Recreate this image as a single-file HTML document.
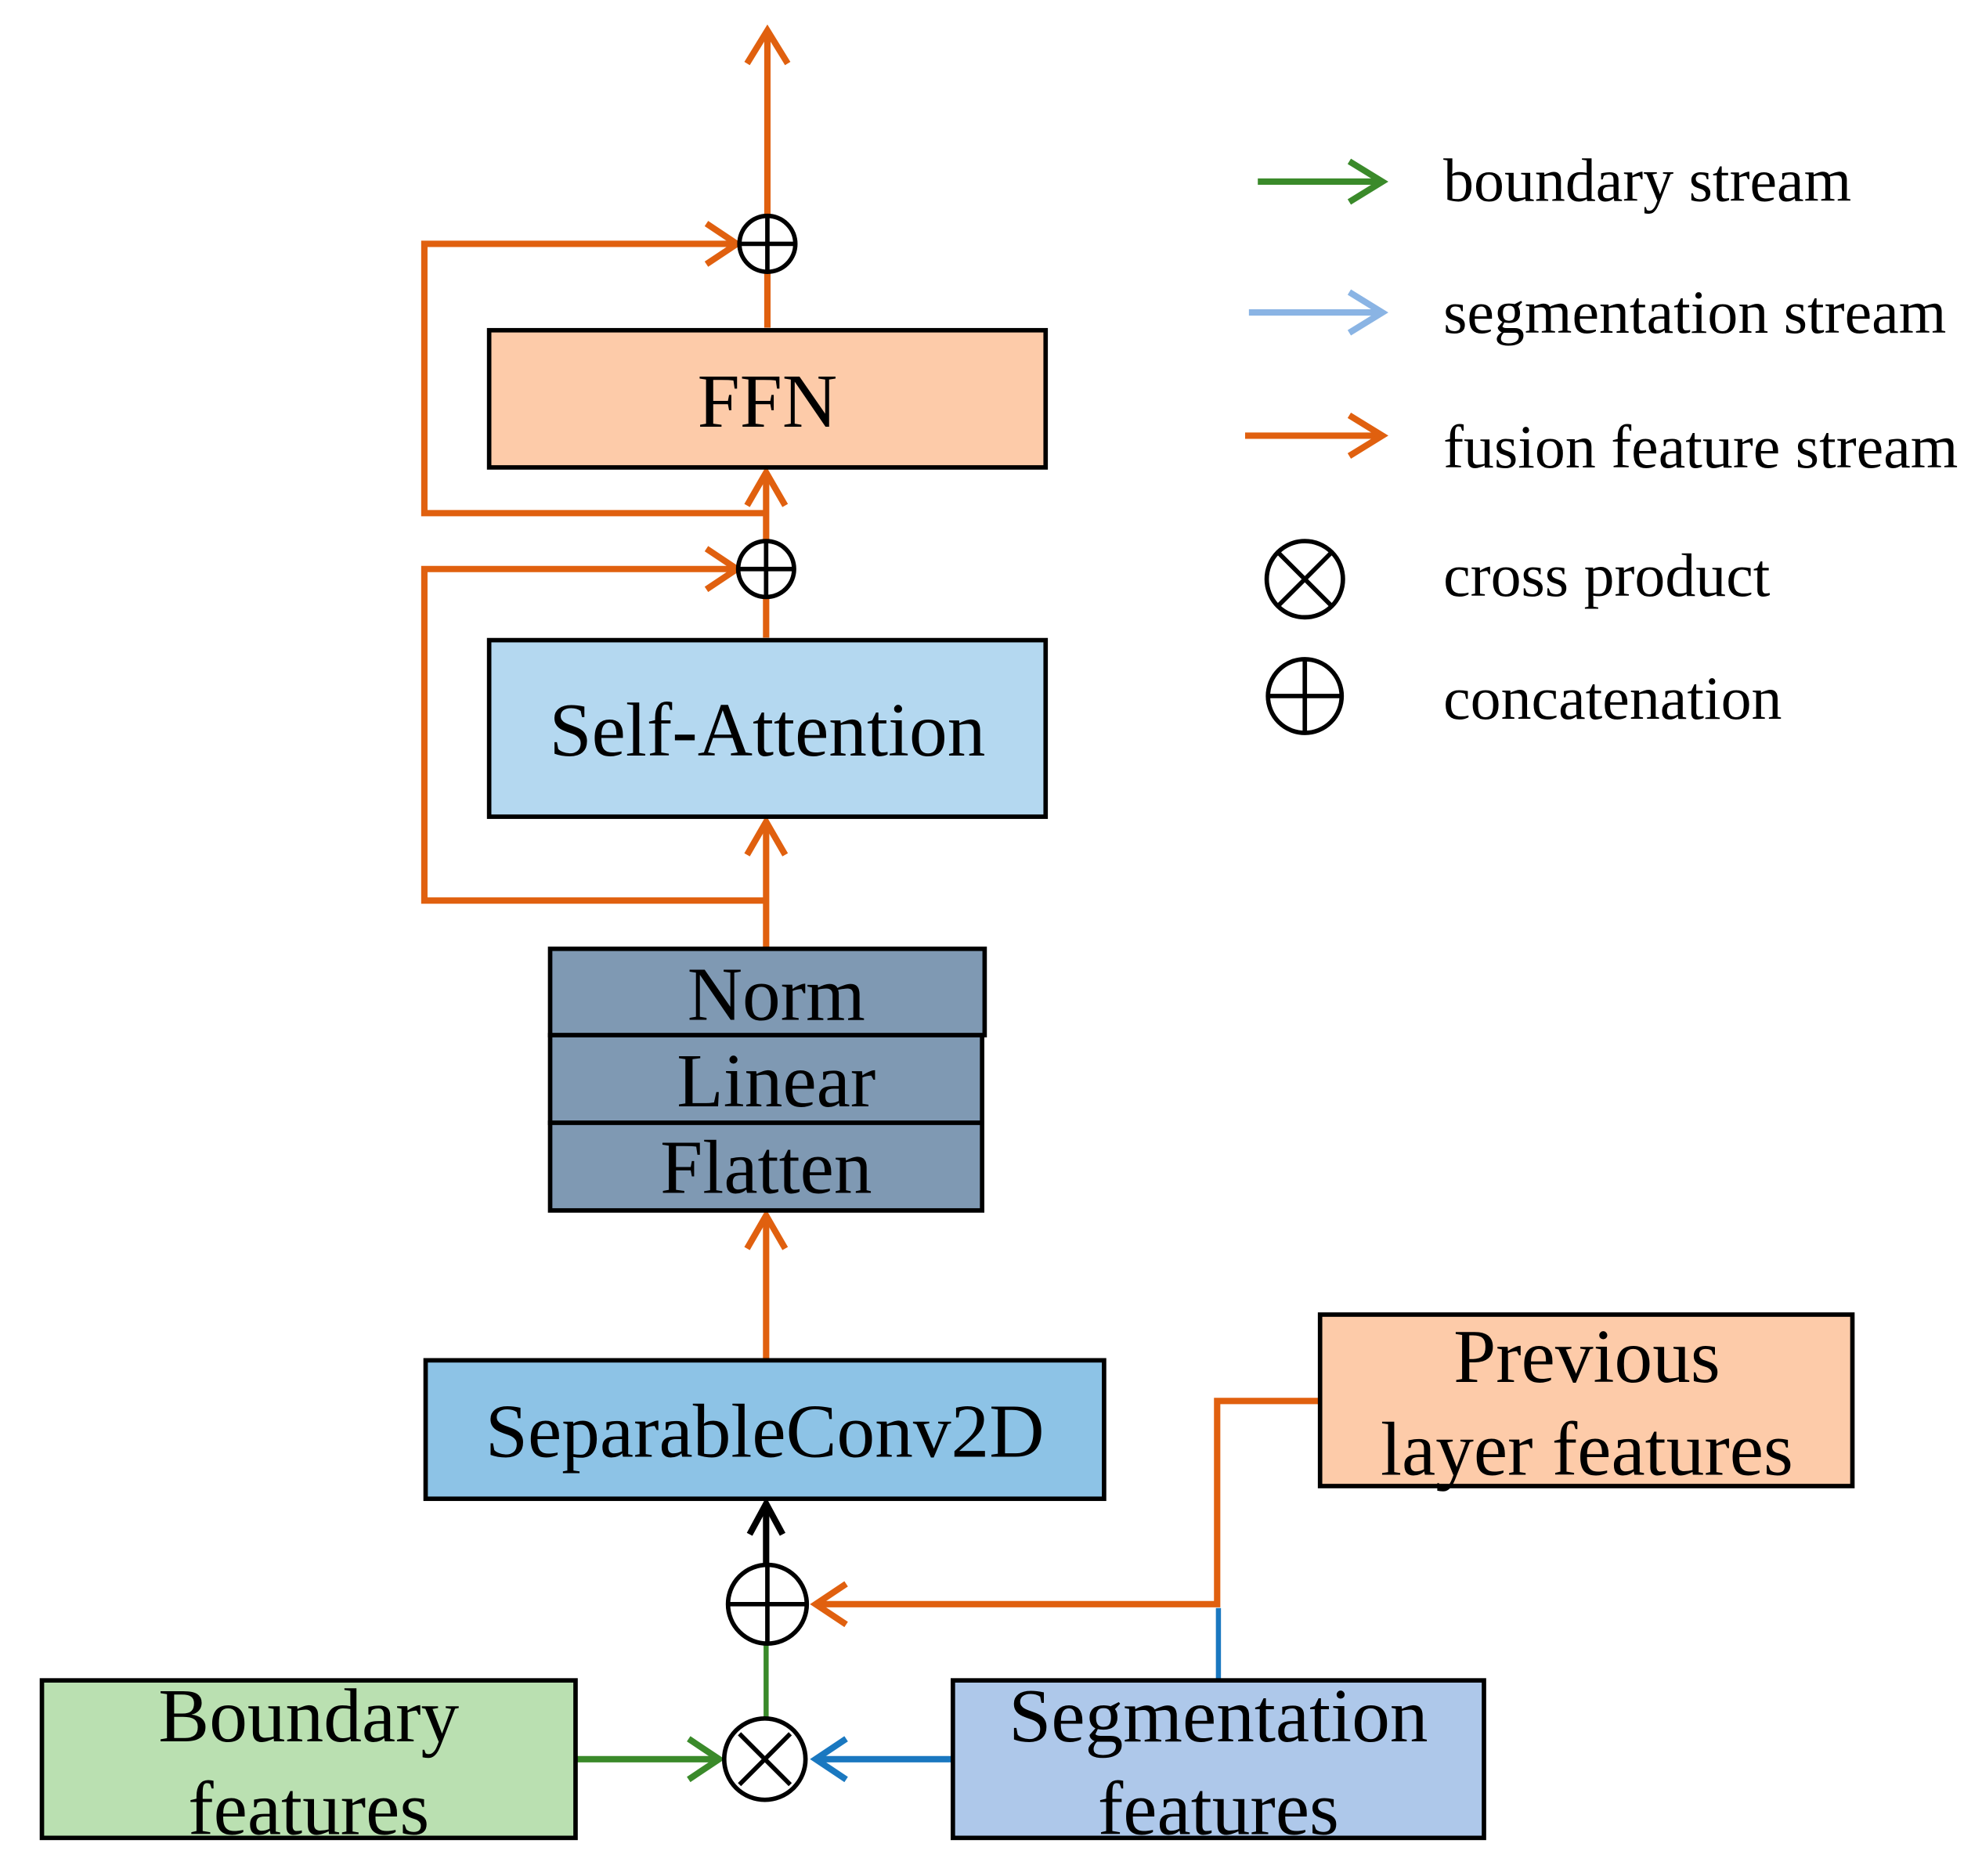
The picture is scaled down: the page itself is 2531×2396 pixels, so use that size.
<!DOCTYPE html>
<html><head><meta charset="utf-8"><style>
html,body{margin:0;padding:0;background:#fff;}
svg{display:block;}
text{font-family:"Liberation Serif",serif;fill:#000;}
</style></head><body>
<svg width="2531" height="2396" viewBox="0 0 1560 1477" preserveAspectRatio="none" xmlns="http://www.w3.org/2000/svg">
<g fill="none" stroke-linecap="butt" stroke-linejoin="miter">
<path d="M604 258 V24" stroke="#e0600f" stroke-width="5"/>
<path d="M588 50 L604 24 L620 50" stroke="#e0600f" stroke-width="5"/>
<path d="M604 404 H334 V192 H578" stroke="#e0600f" stroke-width="5"/>
<path d="M556 176 L580 192 L556 208" stroke="#e0600f" stroke-width="5"/>
<path d="M603 426 V372" stroke="#e0600f" stroke-width="5"/>
<path d="M588 398 L603 372 L618 398" stroke="#e0600f" stroke-width="5"/>
<path d="M603 502 V470" stroke="#e0600f" stroke-width="5"/>
<path d="M603 709 H334 V448 H579" stroke="#e0600f" stroke-width="5"/>
<path d="M556 432 L580 448 L556 464" stroke="#e0600f" stroke-width="5"/>
<path d="M603 747 V647" stroke="#e0600f" stroke-width="5"/>
<path d="M588 673 L603 647 L618 673" stroke="#e0600f" stroke-width="5"/>
<path d="M603 1071 V957" stroke="#e0600f" stroke-width="5"/>
<path d="M588 983 L603 957 L618 983" stroke="#e0600f" stroke-width="5"/>
<path d="M603 1232 V1184" stroke="#000" stroke-width="5"/>
<path d="M590 1208 L603 1184 L616 1208" stroke="#000" stroke-width="5"/>
<path d="M1038 1103 H958 V1263 H642" stroke="#e0600f" stroke-width="5"/>
<path d="M666 1247 L642 1263 L666 1279" stroke="#e0600f" stroke-width="5"/>
<path d="M959 1323 V1266" stroke="#1a78c0" stroke-width="4"/>
<path d="M603 1354 V1295" stroke="#3a8a2a" stroke-width="4"/>
<path d="M453 1385 H566" stroke="#3a8a2a" stroke-width="5"/>
<path d="M542 1369 L566 1385 L542 1401" stroke="#3a8a2a" stroke-width="5"/>
<path d="M750 1385 H642" stroke="#1a78c0" stroke-width="5"/>
<path d="M666 1369 L642 1385 L666 1401" stroke="#1a78c0" stroke-width="5"/>
<path d="M990 143 H1086" stroke="#3a8a2a" stroke-width="5"/>
<path d="M1062 127 L1088 143 L1062 159" stroke="#3a8a2a" stroke-width="5"/>
<path d="M983 246 H1086" stroke="#8ab4e4" stroke-width="5"/>
<path d="M1062 230 L1088 246 L1062 262" stroke="#8ab4e4" stroke-width="5"/>
<path d="M980 343 H1086" stroke="#e0600f" stroke-width="5"/>
<path d="M1062 327 L1088 343 L1062 359" stroke="#e0600f" stroke-width="5"/>
</g>
<g stroke="#000" stroke-width="3.5">
<rect x="385" y="260" width="438" height="108" fill="#fdcba9"/>
<rect x="385" y="504" width="438" height="139" fill="#b4d8f0"/>
<rect x="433" y="747" width="342" height="68" fill="#7f99b3"/>
<rect x="433" y="815" width="340" height="69" fill="#7f99b3"/>
<rect x="433" y="884" width="340" height="69" fill="#7f99b3"/>
<rect x="335" y="1071" width="534" height="109" fill="#8dc3e6"/>
<rect x="1039" y="1035" width="419" height="135" fill="#fdcba9"/>
<rect x="33" y="1323" width="420" height="124" fill="#bae0b1"/>
<rect x="750" y="1323" width="418" height="124" fill="#aec8ea"/>
</g>
<g stroke="#000" stroke-width="3.5" fill="#fff">
<circle cx="604" cy="192" r="22"/><path d="M582 192 H626 M604 170 V214"/>
<circle cx="603" cy="448" r="22"/><path d="M581 448 H625 M603 426 V470"/>
<circle cx="604" cy="1263" r="31"/><path d="M573 1263 H635 M604 1232 V1294"/>
<circle cx="602" cy="1385" r="32"/><path d="M582 1365 L622 1405 M622 1365 L582 1405" fill="none"/>
<circle cx="1027" cy="456" r="30"/><path d="M1006 435 L1048 477 M1048 435 L1006 477" fill="none"/>
<circle cx="1027" cy="548" r="29"/><path d="M998 548 H1056 M1027 519 V577"/>
</g>
<g text-anchor="middle" font-size="60">
<text x="604" y="336">FFN</text>
<text x="604" y="595">Self-Attention</text>
<text x="611" y="803">Norm</text>
<text x="611" y="871">Linear</text>
<text x="603" y="939">Flatten</text>
<text x="602" y="1147">SeparableConv2D</text>
<text x="1249" y="1088">Previous</text>
<text x="1249" y="1161">layer features</text>
<text x="243" y="1371">Boundary</text>
<text x="243" y="1444">features</text>
<text x="959" y="1371">Segmentation</text>
<text x="959" y="1444">features</text>
</g>
<g font-size="48">
<text x="1136" y="158">boundary stream</text>
<text x="1136" y="262">segmentation stream</text>
<text x="1136" y="368">fusion feature stream</text>
<text x="1136" y="469">cross product</text>
<text x="1136" y="566">concatenation</text>
</g>
</svg>
</body></html>
